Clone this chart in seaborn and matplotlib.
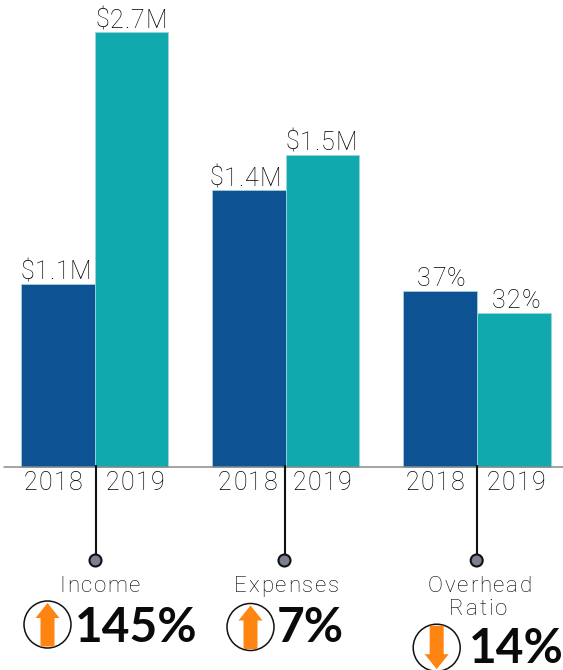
import matplotlib
matplotlib.use("Agg")
import matplotlib.pyplot as plt
from matplotlib.patches import Circle, Polygon
from matplotlib.font_manager import FontProperties
from matplotlib.textpath import TextPath
import pandas as pd
import seaborn as sns

# data
groups = ["Income", "Expenses", "Overhead Ratio"]
years = ["2018", "2019"]
# bar heights, tallest bar = 100 (each group has its own hidden scale)
heights_2018 = [42.1, 63.7, 40.5]
heights_2019 = [100, 71.7, 35.4]
labels_2018 = ["$1.1M", "$1.4M", "37%"]
labels_2019 = ["$2.7M", "$1.5M", "32%"]
changes = ["145%", "7%", "14%"]
directions = ["up", "up", "down"]

sns.set_theme(style="white")
plt.rcParams["font.family"] = ["Lato", "DejaVu Sans"]

W, H = 563, 670
BLUE = "#0D5292"
TEAL = "#10AAAE"
ORANGE = "#FF8412"

df = pd.DataFrame({
    "group": groups * 2,
    "year": [years[0]] * 3 + [years[1]] * 3,
    "height": heights_2018 + heights_2019,
})

fig = plt.figure(figsize=(W / 100, H / 100), dpi=100)
ax = fig.add_axes([0, 0, 1, 1])
sns.barplot(data=df, x="group", y="height", hue="year", order=groups, hue_order=years,
            palette=[BLUE, TEAL], saturation=1, width=0.77, gap=0, dodge=True, legend=False,
            edgecolor="#9FD3DC", linewidth=0.6, ax=ax)
# 1 unit = 4.35 px, baseline 467 px from the top
ax.set_xlim(-94.6 / 191.25, (W - 94.6) / 191.25)
ax.set_ylim(-(H - 467) / 4.35, 467 / 4.35)
ax.axis("off")

# overlay in pixel coordinates for the annotations
ov = fig.add_axes([0, 0, 1, 1], facecolor="none")
ov.set_xlim(0, W)
ov.set_ylim(H, 0)
ov.axis("off")

ov.plot([4, W], [467, 467], color="#8A8A8A", lw=1.1, zorder=2)

light = FontProperties(family="Roboto", weight="light")


def spaced(cx, cy, s, size, track):
    # letter spaced text, one text per character, centred on cx, cy is the baseline
    fp = light.copy()
    fp.set_size(size)
    bar = TextPath((0, 0), "|", prop=fp).get_extents().x1
    widths = [(TextPath((0, 0), s[:i] + "|", prop=fp).get_extents().x1 - bar) * 100 / 72
              for i in range(len(s) + 1)]
    total = widths[-1] + track * (len(s) - 1)
    x0 = cx - total / 2
    for i, ch in enumerate(s):
        ov.text(x0 + widths[i] + track * i, cy, ch, ha="left", va="baseline",
                fontproperties=fp, color="#000000")


# value labels
value_x = [55.7, 245, 441, 131, 321, 516]
value_y = [279, 186, 286, 28, 150, 308]
for x, y, s in zip(value_x, value_y, labels_2018 + labels_2019):
    spaced(x, y, s, 18, 0.8)

# year labels
year_x = [53, 134.7, 247.5, 321.8, 435, 516]
for i, x in enumerate(year_x):
    spaced(x, 490, years[i % 2], 18, 1.4)

# stems and dots
stem_x = [95.5, 284.5, 476.7]
for x in stem_x:
    ov.plot([x, x], [465, 555], color="#111111", lw=1.5, zorder=3, solid_capstyle="butt")
    ov.add_patch(Circle((x, 560.5), 6, facecolor="#7A8090", edgecolor="#111111", lw=1.5, zorder=4))

# group names
spaced(100, 592, "Income", 16, 1.7)
spaced(286.5, 592, "Expenses", 16, 1.9)
spaced(479.7, 592, "Overhead", 16, 1.9)
spaced(478, 615, "Ratio", 16, 1.9)

# change figures
big_x = [136.5, 310, 516.7]
big_y = [641.5, 641.5, 663]
for x, y, s in zip(big_x, big_y, changes):
    ov.text(x, y, s, ha="center", va="baseline", fontsize=34.5, fontweight="bold", color="#0A0A0A")


def arrow_badge(cx, cy, direction):
    ov.add_patch(Circle((cx, cy), 23.5, facecolor="white", edgecolor="#111111", lw=1.1, zorder=3))
    s = -1 if direction == "up" else 1
    pts = [(cx - 7, cy - s * 22), (cx + 7, cy - s * 22), (cx + 7, cy + s * 6.5),
           (cx + 12, cy + s * 6.5), (cx, cy + s * 21.5), (cx - 12, cy + s * 6.5),
           (cx - 7, cy + s * 6.5)]
    ov.add_patch(Polygon(pts, closed=True, facecolor=ORANGE, edgecolor="none", zorder=4))


badge_x = [47.5, 250.5, 436.7]
badge_y = [624.5, 627, 647.7]
for x, y, d in zip(badge_x, badge_y, directions):
    arrow_badge(x, y, d)

fig.savefig("out.png", dpi=100, facecolor="white")
